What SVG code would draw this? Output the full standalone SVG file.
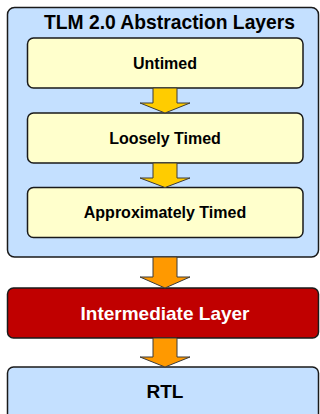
<svg xmlns="http://www.w3.org/2000/svg" width="320" height="414" viewBox="0 0 320 414">
<style>
text{font-family:"Liberation Sans",Arial,sans-serif;font-weight:bold;text-anchor:middle}
.blue{fill:#C4E0FF;stroke:#1a1a1a;stroke-width:1.5}
.yel{fill:#FFFFCC;stroke:#1a1a1a;stroke-width:1.5}
.red{fill:#C00000;stroke:#1a1a1a;stroke-width:1.5}
.ay{fill:#FFCC00;stroke:#3a3a3a;stroke-width:1}
.ao{fill:#FF9900;stroke:#3a3a3a;stroke-width:1}
</style>
<rect width="320" height="414" fill="#fff"/>
<g id="tlm">
<rect class="blue" x="7.5" y="7.5" width="311" height="249.5" rx="7"/>
<text x="169.5" y="29" font-size="19.3" fill="#000">TLM 2.0 Abstraction Layers</text>
</g>
<g id="untimed">
<rect class="yel" x="27.5" y="38" width="275.5" height="50" rx="6"/>
<text x="165" y="68.5" font-size="16" fill="#000">Untimed</text>
</g>
<g id="loosely">
<rect class="yel" x="27.5" y="113" width="275.5" height="50" rx="6"/>
<text x="165" y="143.5" font-size="16" fill="#000">Loosely Timed</text>
</g>
<g id="approx">
<rect class="yel" x="27.5" y="187.5" width="275.5" height="50" rx="6"/>
<text x="165" y="218" font-size="16" fill="#000">Approximately Timed</text>
</g>
<g id="intermediate">
<rect class="red" x="7.5" y="288" width="311" height="50" rx="6"/>
<text x="165" y="319.5" font-size="19" fill="#fff">Intermediate Layer</text>
</g>
<g id="rtl">
<rect class="blue" x="7.5" y="367" width="311" height="60" rx="6"/>
<text x="165" y="398" font-size="19" fill="#000">RTL</text>
</g>
<g id="connectors">
<polygon class="ay" points="153,88 177,88 177,103 190,103 165,113 140,103 153,103"/>
<polygon class="ay" points="153,163 177,163 177,178 190,178 165,187.5 140,178 153,178"/>
<polygon class="ao" points="153,257 177,257 177,277 190,277 165,288 140,277 153,277"/>
<polygon class="ao" points="153,338 177,338 177,357 190,357 165,367 140,357 153,357"/>
</g>
</svg>
